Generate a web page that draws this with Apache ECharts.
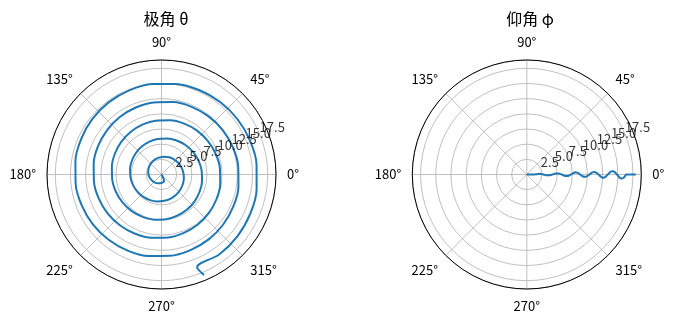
<!DOCTYPE html>
<html>
<head>
<meta charset="utf-8">
<script src="https://cdn.jsdelivr.net/npm/echarts@6/dist/echarts.min.js"></script>
<style>
html,body{margin:0;padding:0;background:#fff;}
#chart{width:681px;height:324px;}
</style>
</head>
<body>
<div id="chart"></div>
<script>
// Shared radial coordinate along the trajectory
const rValues = [0,
  1.20,1.33,1.45,1.58,1.71,1.83,1.96,2.09,2.21,2.34,2.47,2.59,
  2.72,2.84,2.97,3.10,3.22,3.35,3.48,3.60,3.73,3.86,3.98,4.11,
  4.24,4.36,4.49,4.62,4.74,4.87,5.00,5.12,5.25,5.37,5.50,5.63,
  5.75,5.88,6.01,6.13,6.26,6.39,6.51,6.64,6.77,6.89,7.02,7.15,
  7.27,7.40,7.53,7.65,7.78,7.90,8.03,8.16,8.28,8.41,8.54,8.66,
  8.79,8.92,9.04,9.17,9.30,9.42,9.55,9.68,9.80,9.93,10.06,10.18,
  10.31,10.43,10.56,10.69,10.81,10.94,11.07,11.19,11.32,11.45,11.57,11.70,
  11.83,11.95,12.08,12.21,12.33,12.46,12.59,12.71,12.84,12.96,13.09,13.22,
  13.34,13.47,13.60,13.72,13.85,13.98,14.10,14.23,14.36,14.48,14.61,14.74,
  14.86,14.99,15.12,15.24,15.37,15.49,15.62,15.75,15.87,16.00,16.13,16.25,
  16.38,
  17.97];
// Polar angle theta (degrees)
const thetaValues = [287,
  291,276,261,246,231,216,201,186,171,156,141,126,111,96,81,66,51,36,21,6,351,336,321,306,
  291,276,261,246,231,216,201,186,171,156,141,126,111,96,81,66,51,36,21,6,351,336,321,306,
  291,276,261,246,231,216,201,186,171,156,141,126,111,96,81,66,51,36,21,6,351,336,321,306,
  291,276,261,246,231,216,201,186,171,156,141,126,111,96,81,66,51,36,21,6,351,336,321,306,
  291,276,261,246,231,216,201,186,171,156,141,126,111,96,81,66,51,36,21,6,351,336,321,306,
  291,
  293];
// Elevation phi (degrees)
const phiValues = [0,
  0,0.6,1.15,1.63,2.0,2.22,2.3,2.22,2.0,1.63,1.15,0.6,
  0,-0.6,-1.15,-1.63,-2.0,-2.22,-2.3,-2.22,-2.0,-1.63,-1.15,-0.6,
  0,0.54,1.05,1.48,1.82,2.03,2.1,2.03,1.82,1.48,1.05,0.54,
  0,-0.6,-1.15,-1.63,-2.0,-2.22,-2.3,-2.22,-2.0,-1.63,-1.15,-0.6,
  0,0.65,1.25,1.77,2.17,2.41,2.5,2.41,2.17,1.77,1.25,0.65,
  0,-0.6,-1.15,-1.63,-2.0,-2.22,-2.3,-2.22,-2.0,-1.63,-1.15,-0.6,
  0,0.54,1.05,1.48,1.82,2.03,2.1,2.03,1.82,1.48,1.05,0.54,
  0,-0.62,-1.2,-1.7,-2.08,-2.32,-2.4,-2.32,-2.08,-1.7,-1.2,-0.62,
  0,0.57,1.1,1.56,1.9,2.13,2.2,2.13,1.9,1.56,1.1,0.57,
  0,-0.62,-1.2,-1.7,-2.08,-2.32,-2.4,-2.32,-2.08,-1.7,-1.2,-0.62,
  0,
  0];
const radialTicks = [2.5,5.0,7.5,10.0,12.5,15.0,17.5];
const radialLabelAngle = 22.5;
const rMax = 18.87;
const titles = ['极角 θ','仰角 φ'];

const FONT = '"Noto Sans CJK SC", "DejaVu Sans", sans-serif';
const chart = echarts.init(document.getElementById('chart'), null, {renderer:'canvas'});

function polarCfg(cx){
  return {center:[cx,174.5], radius:114.5};
}
function angleAxisCfg(i){
  return {
    polarIndex:i, type:'value', min:0, max:360, interval:45,
    startAngle:0, clockwise:false, z:5,
    axisLine:{show:true, lineStyle:{color:'#000', width:1}},
    axisTick:{show:false},
    axisLabel:{show:true, margin:11, color:'#000', fontSize:13, fontFamily:FONT,
      formatter:v => v===360 ? '' : v+'°'},
    splitLine:{show:true, lineStyle:{color:'#b0b0b0', width:0.8}}
  };
}
function radiusAxisCfg(i){
  return {
    polarIndex:i, type:'value', min:0, max:rMax, interval:2.5, z:2,
    axisLine:{show:false}, axisTick:{show:false}, axisLabel:{show:false},
    splitLine:{show:true, lineStyle:{color:'#b0b0b0', width:0.8}}
  };
}
function tickLabelSeries(i){
  return {
    type:'scatter', coordinateSystem:'polar', polarIndex:i, silent:true,
    symbolSize:0, z:10,
    data: radialTicks.map(r => [r, radialLabelAngle]),
    label:{show:true, position:[0,0], align:'left', verticalAlign:'bottom',
      color:'#000', fontSize:13, fontFamily:FONT,
      formatter:p => p.value[0].toFixed(1)}
  };
}
function lineSeries(i, angles){
  return {
    type:'line', coordinateSystem:'polar', polarIndex:i, showSymbol:false, symbol:'none',
    smooth:0.34, clip:false, z:6,
    lineStyle:{color:'#1f77b4', width:2, join:'round', cap:'butt'},
    data: rValues.map((r,j) => [r, angles[j]])
  };
}

const option = {
  animation:false,
  backgroundColor:'#fff',
  title:[
    {text:titles[0], left:161, top:6, textAlign:'center',
      textStyle:{fontSize:16, fontWeight:'normal', color:'#000', fontFamily:FONT}},
    {text:titles[1], left:525, top:6, textAlign:'center',
      textStyle:{fontSize:16, fontWeight:'normal', color:'#000', fontFamily:FONT}}
  ],
  polar:[polarCfg(161.5), polarCfg(526.8)],
  angleAxis:[angleAxisCfg(0), angleAxisCfg(1)],
  radiusAxis:[radiusAxisCfg(0), radiusAxisCfg(1)],
  series:[
    lineSeries(0, thetaValues),
    lineSeries(1, phiValues),
    tickLabelSeries(0),
    tickLabelSeries(1)
  ]
};
chart.setOption(option);
</script>
</body>
</html>
